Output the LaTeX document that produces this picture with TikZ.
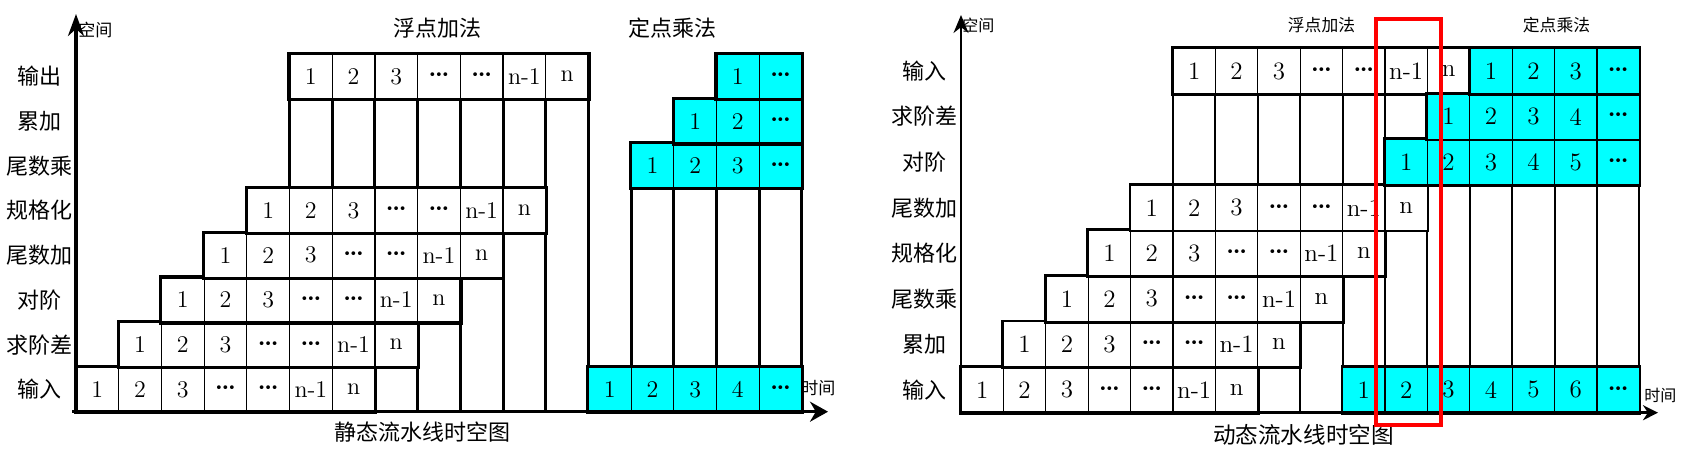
\documentclass[tikz,border=0pt]{standalone}
\usepackage{fontspec}
\newfontfamily\cjk{Noto Sans CJK SC}
\newfontfamily\symf{DejaVu Sans}
\usetikzlibrary{arrows.meta}
\definecolor{cyanbox}{HTML}{00FFFF}
\definecolor{redbox}{HTML}{FF0000}
\newcommand{\ddd}{{\symf\fontsize{6.5}{6.5}\selectfont •\kern-0.6pt•\kern-0.6pt•}}
% one stage row: name, first column, row, number of cells, style, entries
\newcommand{\stage}[6]{%
  \foreach \lbl [count=\i] in {#6}
    \node[#5] (#1\i) at (#2+\i-0.5,#3+0.5) {\lbl};
  \draw[box] (#11.north west) rectangle (#1#4.south east);
}

\begin{document}
\begin{tikzpicture}[x=0.5pt,y=-0.5pt]
\useasboundingbox (0,0) rectangle (1685,454);

\tikzstyle{cell} = [draw=black, line width=0.6pt, fill=white, inner sep=0pt]
\tikzstyle{lcell} = [cell, minimum width=21.35pt, minimum height=22.35pt, font=\fontsize{12}{12}\selectfont]
\tikzstyle{lcy} = [lcell, fill=cyanbox]
\tikzstyle{rcell} = [cell, minimum width=21.2pt, minimum height=22.775pt, font=\fontsize{12.5}{12.5}\selectfont]
\tikzstyle{rcy} = [rcell, fill=cyanbox]
\tikzstyle{rowname} = [inner sep=0pt, font=\cjk\fontsize{11}{11}\selectfont]
\tikzstyle{big} = [inner sep=0pt, font=\cjk\fontsize{11}{11}\selectfont]
\tikzstyle{small} = [inner sep=0pt, font=\cjk\fontsize{8.4}{8.4}\selectfont]

% static pipeline
\begin{scope}[shift={(76,411.7)},x=21.35pt,y=22.35pt,box/.style={draw,line width=1.6pt}]
\foreach \k/\h in {1/2,2/3,3/4,4/5,5/8,6/8,7/8,8/8,9/8,10/8,11/8,12/8,13/6,14/7,15/8,16/8,17/8}
  \draw[line width=1.5pt] (\k,0) -- (\k,\h);
\stage{li}{0}{0}{7}{lcell}{1,2,3,\ddd,\ddd,n-1,n}
\stage{lq}{1}{1}{7}{lcell}{1,2,3,\ddd,\ddd,n-1,n}
\stage{ld}{2}{2}{7}{lcell}{1,2,3,\ddd,\ddd,n-1,n}
\stage{lw}{3}{3}{7}{lcell}{1,2,3,\ddd,\ddd,n-1,n}
\stage{lg}{4}{4}{7}{lcell}{1,2,3,\ddd,\ddd,n-1,n}
\stage{lo}{5}{7}{7}{lcell}{1,2,3,\ddd,\ddd,n-1,n}
\stage{mi}{12}{0}{5}{lcy}{1,2,3,4,\ddd}
\stage{mm}{13}{5}{4}{lcy}{1,2,3,\ddd}
\stage{ma}{14}{6}{3}{lcy}{1,2,\ddd}
\stage{mo}{15}{7}{2}{lcy}{1,\ddd}
\foreach \r/\s in {0/输入,1/求阶差,2/对阶,3/尾数加,4/规格化,5/尾数乘,6/累加,7/输出}
  \node[rowname] (lr\r) at (-0.85,\r+0.5) {\s};
\end{scope}

% dynamic pipeline
\begin{scope}[shift={(961,412.7)},x=21.2pt,y=22.775pt,box/.style={draw,line width=1.4pt}]
\foreach \k/\h in {1/2,2/3,3/4,4/5,5/8,6/8,7/8,8/8,9/8,10/8,11/8,12/8,13/8,14/8,15/8,16/8}
  \draw[line width=1pt] (\k,0) -- (\k,\h);
\stage{ri}{0}{0}{7}{rcell}{1,2,3,\ddd,\ddd,n-1,n}
\stage{ra}{1}{1}{7}{rcell}{1,2,3,\ddd,\ddd,n-1,n}
\stage{rm}{2}{2}{7}{rcell}{1,2,3,\ddd,\ddd,n-1,n}
\stage{rg}{3}{3}{7}{rcell}{1,2,3,\ddd,\ddd,n-1,n}
\stage{rw}{4}{4}{7}{rcell}{1,2,3,\ddd,\ddd,n-1,n}
\stage{rt}{5}{7}{7}{rcell}{1,2,3,\ddd,\ddd,n-1,n}
\stage{si}{9}{0}{7}{rcy}{1,2,3,4,5,6,\ddd}
\stage{sd}{10}{5}{6}{rcy}{1,2,3,4,5,\ddd}
\stage{sq}{11}{6}{5}{rcy}{1,2,3,4,\ddd}
\stage{st}{12}{7}{4}{rcy}{1,2,3,\ddd}
\foreach \r/\s in {0/输入,1/累加,2/尾数乘,3/规格化,4/尾数加,5/对阶,6/求阶差,7/输入}
  \node[rowname] (rr\r) at (-0.85,\r+0.5) {\s};
\end{scope}

% axes
\coordinate (lo) at (76,411.7);
\coordinate (ly) at (76,14);
\coordinate (lx) at (828,411.7);
\draw[line width=2pt,-{Stealth[length=11pt,width=8pt]}] ([yshift=-1pt]lo) -- (ly);
\draw[line width=1.7pt,-{Stealth[length=9pt,width=10pt]}] ([xshift=-2pt]lo) -- (lx);
\coordinate (ro) at (961,412.7);
\coordinate (ry) at (961,15);
\coordinate (rx) at (1658,412.7);
\draw[line width=0.9pt,-{Stealth[length=9pt,width=7.5pt]}] ([yshift=-1pt]ro) -- (ry);
\draw[line width=1.5pt,-{Stealth[length=7.5pt,width=7.5pt]}] ([xshift=-1pt]ro) -- (rx);

% labels
\node[small, anchor=west, font=\cjk\fontsize{8.5}{8.5}\selectfont] (lsp) at (78,30) {空间};
\node[small, anchor=west, font=\cjk\fontsize{8.5}{8.5}\selectfont] (ltm) at (801,388) {时间};
\node[big] (lfa) at (437,28) {浮点加法};
\node[big] (lfm) at (672,28) {定点乘法};
\node[big] (lcap) at (422,432) {静态流水线时空图};
\node[small, anchor=west, font=\cjk\fontsize{8}{8}\selectfont] (rsp) at (962,25) {空间};
\node[small, anchor=west, font=\cjk\fontsize{8}{8}\selectfont] (rtm) at (1644,395) {时间};
\node[small] (rfa) at (1321.5,25) {浮点加法};
\node[small] (rfm) at (1556.5,25) {定点乘法};
\node[big, font=\cjk\fontsize{11.3}{11.3}\selectfont] (rcap) at (1303.5,435) {动态流水线时空图};

% red frame
\draw[redbox, line width=1.6pt] (1376,19) rectangle (1441,425);
\end{tikzpicture}
\end{document}
